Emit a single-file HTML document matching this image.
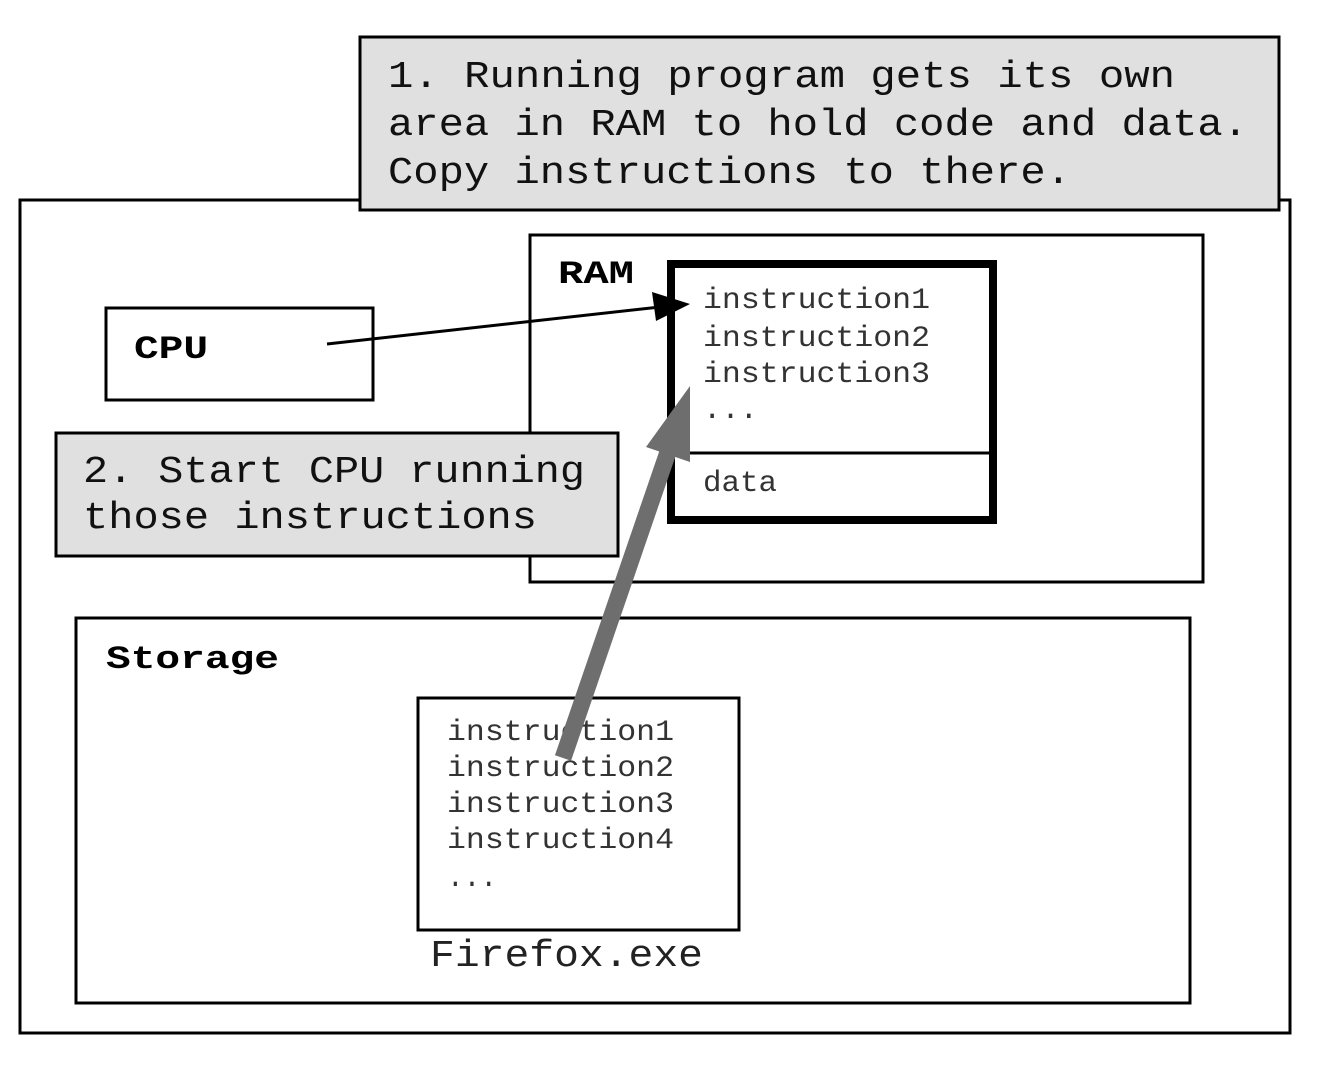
<!DOCTYPE html>
<html><head><style>html,body{margin:0;padding:0;background:#fff}svg{display:block}</style></head>
<body>
<svg width="1320" height="1068" viewBox="0 0 1320 1068" xmlns="http://www.w3.org/2000/svg" font-family="'Liberation Mono', monospace">
<rect x="20" y="200" width="1270" height="833" fill="#fff" stroke="#000" stroke-width="3"/>
<rect x="360" y="37" width="919" height="173" fill="#e0e0e0" stroke="#000" stroke-width="3"/>
<g font-size="38" fill="#111">
<text x="388" y="87" textLength="787" lengthAdjust="spacingAndGlyphs">1. Running program gets its own</text>
<text x="388" y="135" textLength="860" lengthAdjust="spacingAndGlyphs">area in RAM to hold code and data.</text>
<text x="388" y="183" textLength="683" lengthAdjust="spacingAndGlyphs">Copy instructions to there.</text>
</g>
<rect x="530" y="235" width="673" height="347" fill="#fff" stroke="#000" stroke-width="3"/>
<text x="558" y="283" font-size="32" font-weight="bold" textLength="76" lengthAdjust="spacingAndGlyphs">RAM</text>
<rect x="106" y="308" width="267" height="92" fill="#fff" stroke="#000" stroke-width="3"/>
<text x="134" y="358" font-size="32" font-weight="bold" textLength="74" lengthAdjust="spacingAndGlyphs">CPU</text>
<rect x="671" y="264" width="322" height="256" fill="#fff" stroke="#000" stroke-width="8"/>
<line x1="671" y1="453" x2="993" y2="453" stroke="#000" stroke-width="3"/>
<g font-size="30" fill="#333">
<text x="703" y="308" textLength="227" lengthAdjust="spacingAndGlyphs">instruction1</text>
<text x="703" y="346" textLength="227" lengthAdjust="spacingAndGlyphs">instruction2</text>
<text x="703" y="382" textLength="227" lengthAdjust="spacingAndGlyphs">instruction3</text>
<text x="703" y="418" textLength="55" lengthAdjust="spacingAndGlyphs">...</text>
<text x="703" y="491" textLength="74" lengthAdjust="spacingAndGlyphs">data</text>
</g>
<line x1="327" y1="344" x2="660" y2="307" stroke="#000" stroke-width="3"/>
<polygon points="690,304 652,292 656,321" fill="#000"/>
<rect x="56" y="433" width="562" height="123" fill="#e0e0e0" stroke="#000" stroke-width="3"/>
<g font-size="38" fill="#111">
<text x="83" y="482" textLength="502" lengthAdjust="spacingAndGlyphs">2. Start CPU running</text>
<text x="83" y="528" textLength="454" lengthAdjust="spacingAndGlyphs">those instructions</text>
</g>
<rect x="76" y="618" width="1114" height="385" fill="#fff" stroke="#000" stroke-width="3"/>
<text x="106" y="668" font-size="32" font-weight="bold" textLength="173" lengthAdjust="spacingAndGlyphs">Storage</text>
<rect x="418" y="698" width="321" height="232" fill="#fff" stroke="#000" stroke-width="3"/>
<g font-size="30" fill="#333">
<text x="447" y="740" textLength="227" lengthAdjust="spacingAndGlyphs">instruction1</text>
<text x="447" y="776" textLength="227" lengthAdjust="spacingAndGlyphs">instruction2</text>
<text x="447" y="812" textLength="227" lengthAdjust="spacingAndGlyphs">instruction3</text>
<text x="447" y="848" textLength="227" lengthAdjust="spacingAndGlyphs">instruction4</text>
<text x="447" y="886" textLength="50" lengthAdjust="spacingAndGlyphs">...</text>
</g>
<text x="430" y="966" font-size="38" fill="#222" textLength="273" lengthAdjust="spacingAndGlyphs">Firefox.exe</text>
<line x1="563" y1="758" x2="668" y2="452" stroke="#6e6e6e" stroke-width="17"/>
<polygon points="690,386 690,462 646,447" fill="#6e6e6e"/>
</svg>
</body></html>
